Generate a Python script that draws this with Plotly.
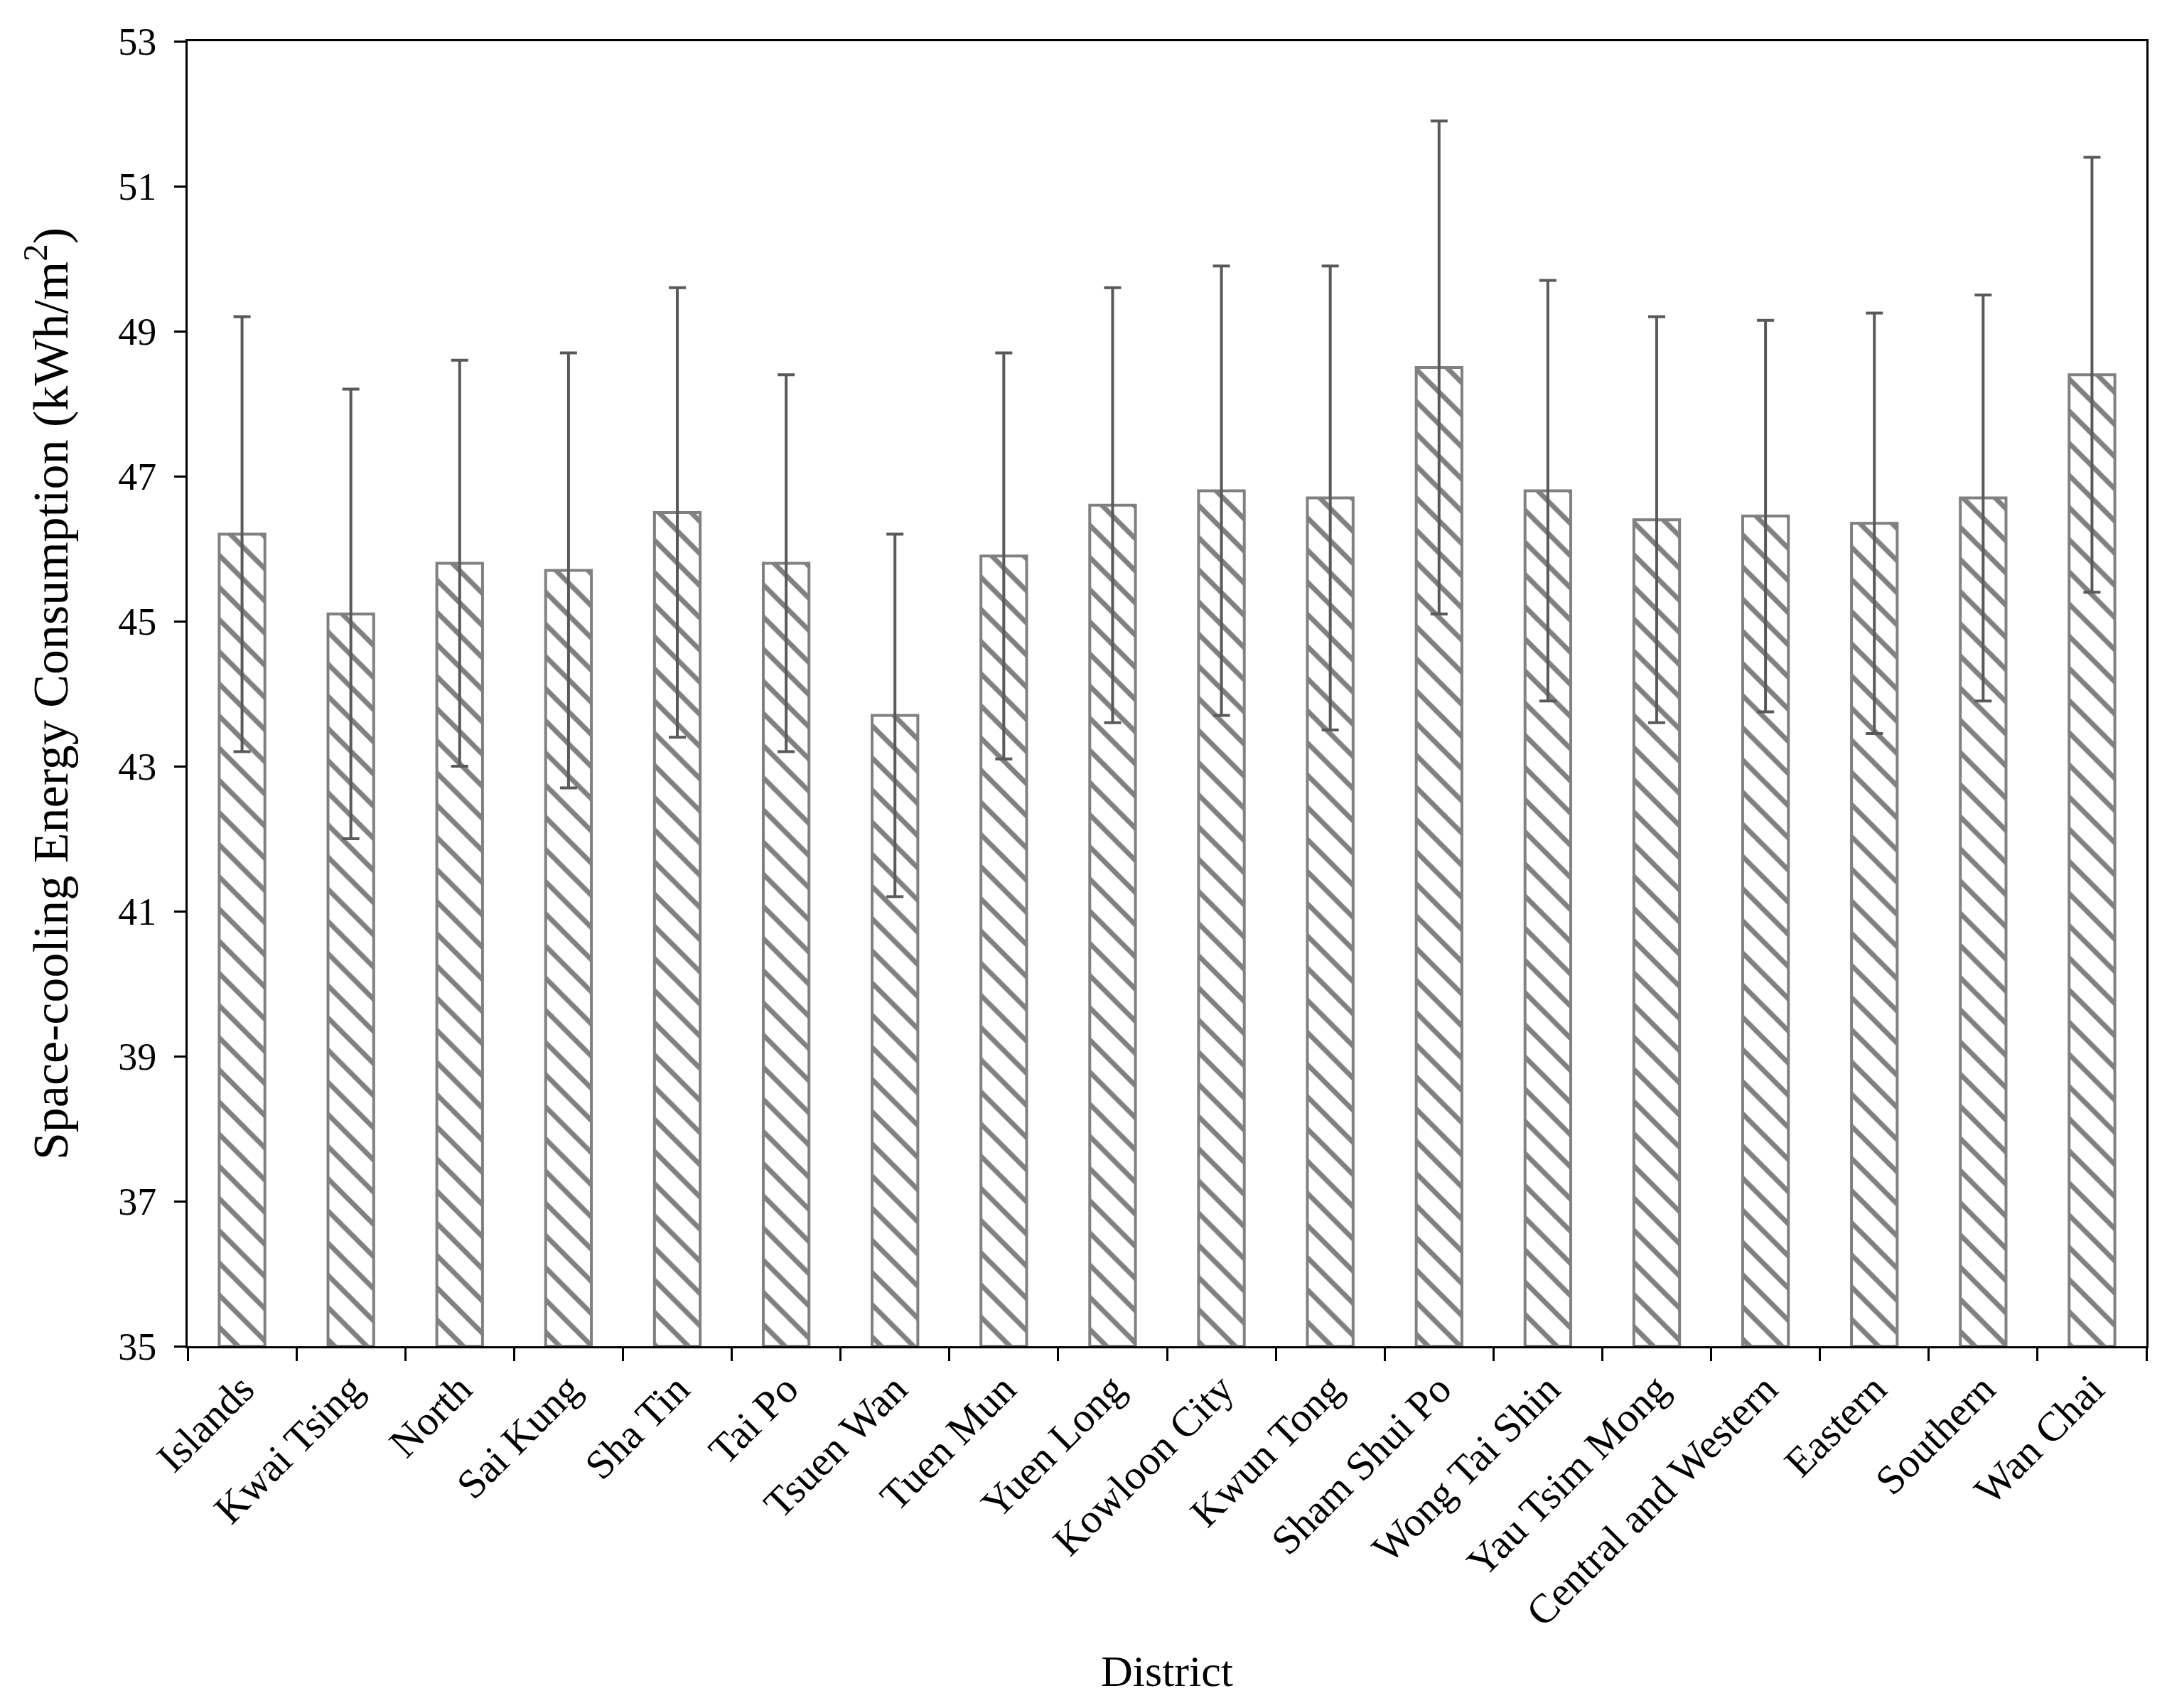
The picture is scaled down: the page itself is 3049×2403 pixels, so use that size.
import plotly.graph_objects as go

districts = ["Islands", "Kwai Tsing", "North", "Sai Kung", "Sha Tin", "Tai Po", "Tsuen Wan",
             "Tuen Mun", "Yuen Long", "Kowloon City", "Kwun Tong", "Sham Shui Po",
             "Wong Tai Shin", "Yau Tsim Mong", "Central and Western", "Eastern", "Southern", "Wan Chai"]
mean_values = [46.2, 45.1, 45.8, 45.7, 46.5, 45.8, 43.7, 45.9, 46.6, 46.8, 46.7, 48.5,
               46.8, 46.4, 46.45, 46.35, 46.7, 48.4]
std_values = [3.0, 3.1, 2.8, 3.0, 3.1, 2.6, 2.5, 2.8, 3.0, 3.1, 3.2, 3.4,
              2.9, 2.8, 2.7, 2.9, 2.8, 3.0]
y_ticks = [35, 37, 39, 41, 43, 45, 47, 49, 51, 53]

FONT = "Liberation Serif, Times New Roman, serif"

fig = go.Figure()
fig.add_trace(go.Bar(
    x=districts,
    y=[v - 35 for v in mean_values],
    base=35,
    width=0.42,
    marker=dict(
        color="white",
        line=dict(color="#808080", width=4),
        pattern=dict(shape="\\", fgcolor="#808080", bgcolor="white", size=32, solidity=0.22,
                     fillmode="replace", fgopacity=1),
    ),
    error_y=dict(type="data", array=std_values, visible=True, color="#595959",
                 thickness=4, width=12),
    showlegend=False,
))

fig.update_layout(
    width=3049, height=2403,
    margin=dict(l=256, r=37, t=50, b=517),
    plot_bgcolor="white", paper_bgcolor="white",
    font=dict(family=FONT, size=54, color="black"),
)
fig.update_xaxes(
    title=dict(text="District", font=dict(family=FONT, size=62), standoff=30),
    tickangle=-45,
    tickson="boundaries",
    ticks="outside", ticklen=18, tickwidth=3, tickcolor="black",
    showline=True, linecolor="black", linewidth=3, mirror=True,
    showgrid=False,
    tickfont=dict(family=FONT, size=58),
)
fig.update_yaxes(
    title=dict(text="Space-cooling Energy Consumption (kWh/m<sup>2</sup>)",
               font=dict(family=FONT, size=70), standoff=48),
    range=[35, 53],
    tickvals=y_ticks,
    ticks="outside", ticklen=16, tickwidth=3, tickcolor="black",
    ticklabelstandoff=14,
    showline=True, linecolor="black", linewidth=3, mirror=True,
    showgrid=False, zeroline=False,
    tickfont=dict(family=FONT, size=54),
)

fig.write_html("out.html")
